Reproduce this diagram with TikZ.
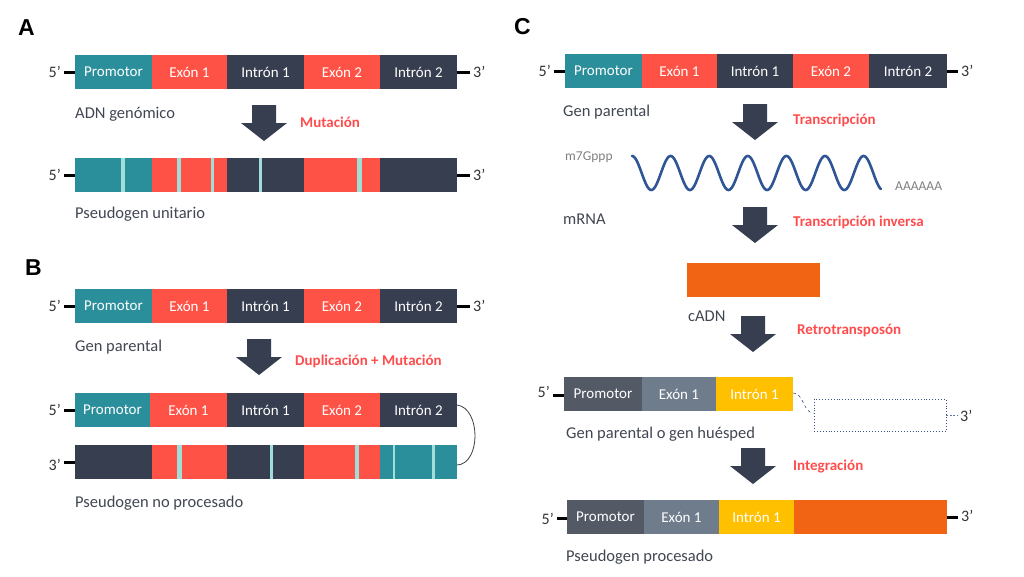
\documentclass[tikz,border=0pt]{standalone}
\usepackage{fontspec}
\setmainfont{Carlito}
\newfontfamily\labfont{Liberation Sans}
\definecolor{teal2}{RGB}{42,142,155}
\definecolor{red2}{RGB}{255,82,70}
\definecolor{navy2}{RGB}{54,62,79}
\definecolor{stripec}{RGB}{160,222,218}
\definecolor{txt}{RGB}{64,70,82}
\definecolor{redtxt}{RGB}{255,77,77}
\definecolor{hostdark}{RGB}{83,89,101}
\definecolor{hostslate}{RGB}{110,124,140}
\definecolor{hostyel}{RGB}{255,192,0}
\definecolor{cadn}{RGB}{240,100,20}
\definecolor{wavec}{RGB}{47,85,151}
\definecolor{graytxt}{RGB}{128,128,128}
\definecolor{dotc}{RGB}{60,80,130}
\tikzset{
  seg/.style={anchor=west, minimum height=34pt, inner sep=0pt, outer sep=0pt, text=white, font=\fontsize{15}{18}\selectfont},
  desc/.style={anchor=base west, inner sep=0pt, text=txt, font=\fontsize{16.5}{20}\selectfont},
  redlab/.style={anchor=base west, inner sep=0pt, text=redtxt, font=\bfseries\fontsize{15}{18}\selectfont},
  endtxt/.style={inner sep=0pt, text=black!80, font=\fontsize{16}{19}\selectfont},
  tick/.style={line width=3pt, black},
  panel/.style={anchor=base west, inner sep=0pt, font=\labfont\bfseries\fontsize{23}{26}\selectfont},
  smalltxt/.style={anchor=base west, inner sep=0pt, text=graytxt, font=\fontsize{13.5}{16}\selectfont},
  stripe/.style={fill=stripec},
  downarrow/.pic={\fill[navy2] (-12,0) -- (12,0) -- (12,18) -- (23,18) -- (0,36) -- (-23,18) -- (-12,18) -- cycle;}
}
\begin{document}
\begin{tikzpicture}[x=1pt,y=-1pt]
\useasboundingbox (0,0) rectangle (1024,576);
\fill[white] (0,0) rectangle (1024,576);

% ---------------- Panel A ----------------
\node[panel] (pA) at (18,35) {A};
\node[seg, fill=teal2, minimum width=77pt] (a1) at (75,72) {Promotor};
\node[seg, fill=red2, minimum width=75pt] (a2) at (a1.east) {Exón 1};
\node[seg, fill=navy2, minimum width=77pt] (a3) at (a2.east) {Intrón 1};
\node[seg, fill=red2, minimum width=76pt] (a4) at (a3.east) {Exón 2};
\node[seg, fill=navy2, minimum width=77pt] (a5) at (a4.east) {Intrón 2};
\coordinate (a5l) at (64,72); \coordinate (a3r) at (470,72);
\draw[tick] (a5l) -- (a1.west);
\draw[tick] (a5.east) -- (a3r);
\node[endtxt, anchor=east] (a5t) at (61,72) {5’};
\node[endtxt, anchor=west] (a3t) at (473,72) {3’};
\node[desc] (aD1) at (75,118) {ADN genómico};
\pic at (264,105) {downarrow};
\node[redlab] (aM) at (300,127) {Mutación};

\node[seg, fill=teal2, minimum width=77pt] (am1) at (75,175) {};
\node[seg, fill=red2, minimum width=75pt] (am2) at (am1.east) {};
\node[seg, fill=navy2, minimum width=77pt] (am3) at (am2.east) {};
\node[seg, fill=red2, minimum width=76pt] (am4) at (am3.east) {};
\node[seg, fill=navy2, minimum width=77pt] (am5) at (am4.east) {};
\fill[stripe] (121,158) rectangle (124.5,192);
\fill[stripe] (177,158) rectangle (181,192);
\fill[stripe] (211,158) rectangle (214,192);
\fill[stripe] (258.5,158) rectangle (262,192);
\fill[stripe] (357,158) rectangle (362,192);
\coordinate (am5l) at (64,175); \coordinate (am3r) at (470,175);
\draw[tick] (am5l) -- (am1.west);
\draw[tick] (am5.east) -- (am3r);
\node[endtxt, anchor=east] (am5t) at (61,175) {5’};
\node[endtxt, anchor=west] (am3t) at (473,175) {3’};
\node[desc] (aD2) at (75,218) {Pseudogen unitario};

% ---------------- Panel B ----------------
\node[panel] (pB) at (25,275) {B};
\node[seg, fill=teal2, minimum width=77pt] (b1) at (75,306) {Promotor};
\node[seg, fill=red2, minimum width=75pt] (b2) at (b1.east) {Exón 1};
\node[seg, fill=navy2, minimum width=77pt] (b3) at (b2.east) {Intrón 1};
\node[seg, fill=red2, minimum width=76pt] (b4) at (b3.east) {Exón 2};
\node[seg, fill=navy2, minimum width=77pt] (b5) at (b4.east) {Intrón 2};
\coordinate (b5l) at (64,306); \coordinate (b3r) at (470,306);
\draw[tick] (b5l) -- (b1.west);
\draw[tick] (b5.east) -- (b3r);
\node[endtxt, anchor=east] (b5t) at (61,306) {5’};
\node[endtxt, anchor=west] (b3t) at (473,306) {3’};
\node[desc] (bD1) at (75,351) {Gen parental};
\pic at (259,339) {downarrow};
\node[redlab] (bM) at (295,365) {Duplicación + Mutación};

\node[seg, fill=teal2, minimum width=75pt] (c1) at (75,410) {Promotor};
\node[seg, fill=red2, minimum width=77pt] (c2) at (c1.east) {Exón 1};
\node[seg, fill=navy2, minimum width=77pt] (c3) at (c2.east) {Intrón 1};
\node[seg, fill=red2, minimum width=76pt] (c4) at (c3.east) {Exón 2};
\node[seg, fill=navy2, minimum width=77pt] (c5) at (c4.east) {Intrón 2};
\coordinate (c5l) at (64,410);
\draw[tick] (c5l) -- (c1.west);
\node[endtxt, anchor=east] (c5t) at (61,410) {5’};

\node[seg, fill=navy2, minimum width=77pt] (d1) at (75,462) {};
\node[seg, fill=red2, minimum width=75pt] (d2) at (d1.east) {};
\node[seg, fill=navy2, minimum width=77pt] (d3) at (d2.east) {};
\node[seg, fill=red2, minimum width=76pt] (d4) at (d3.east) {};
\node[seg, fill=teal2, minimum width=77pt] (d5) at (d4.east) {};
\fill[stripe] (177,445) rectangle (182,479);
\fill[stripe] (270,445) rectangle (273,479);
\fill[stripe] (355,445) rectangle (359,479);
\fill[stripe] (392.5,445) rectangle (395,479);
\fill[stripe] (432,445) rectangle (435,479);
\coordinate (d3l) at (64,462);
\draw[tick] (d3l) -- (d1.west);
\node[endtxt, anchor=east] (d3t) at (61,465) {3’};
\draw[black!75, line width=0.8pt] ([yshift=5pt]c5.east) .. controls (481,408) and (481,464) .. ([yshift=-3pt]d5.east);
\node[desc] (bD2) at (75,507) {Pseudogen no procesado};

% ---------------- Panel C ----------------
\node[panel] (pC) at (514,34) {C};
\node[seg, fill=teal2, minimum width=77pt] (e1) at (565,71) {Promotor};
\node[seg, fill=red2, minimum width=75pt] (e2) at (e1.east) {Exón 1};
\node[seg, fill=navy2, minimum width=76pt] (e3) at (e2.east) {Intrón 1};
\node[seg, fill=red2, minimum width=76pt] (e4) at (e3.east) {Exón 2};
\node[seg, fill=navy2, minimum width=78pt] (e5) at (e4.east) {Intrón 2};
\coordinate (e5l) at (554,71); \coordinate (e3r) at (958,71);
\draw[tick] (e5l) -- (e1.west);
\draw[tick] (e5.east) -- (e3r);
\node[endtxt, anchor=east] (e5t) at (551,71) {5’};
\node[endtxt, anchor=west] (e3t) at (961,71) {3’};
\node[desc] (eD1) at (563,116) {Gen parental};
\pic at (755,104) {downarrow};
\node[redlab] (eT1) at (793,124) {Transcripción};

\node[smalltxt] (m7) at (565,160) {m7Gppp};
\draw[wavec, line width=2.6pt, line cap=round] plot[domain=0:6.45, samples=300, smooth] ({632+\x*38.6},{173-17*cos(360*\x)});
\node[smalltxt] (polyA) at (895,190) {AAAAAA};
\node[desc] (eD2) at (563,224) {mRNA};
\pic at (755,207) {downarrow};
\node[redlab] (eT2) at (793,226) {Transcripción inversa};

\node[fill=cadn, minimum width=133pt, minimum height=34pt, inner sep=0pt] (cd) at (753.5,280) {};
\node[desc] (eD3) at (688,321) {cADN};
\pic at (753,316) {downarrow};
\node[redlab] (eT3) at (797,334) {Retrotransposón};

\node[seg, fill=hostdark, minimum width=78pt] (h1) at (564,394) {Promotor};
\node[seg, fill=hostslate, minimum width=74pt] (h2) at (h1.east) {Exón 1};
\node[seg, fill=hostyel, minimum width=77pt] (h3) at (h2.east) {Intrón 1};
\coordinate (h5l) at (553,395);
\draw[tick] (h5l) -- ([yshift=-1pt]h1.west);
\node[endtxt, anchor=east] (h5t) at (550,392) {5’};
\node[draw=dotc, dotted, line width=0.9pt, minimum width=132pt, minimum height=32pt, inner sep=0pt] (gap) at (880,415) {};
\draw[dotc, dashed, line width=0.6pt] ([yshift=1pt]h3.east) .. controls (804,393) and (803,413) .. ([yshift=2pt]gap.west);
\coordinate (gapr) at (957,415);
\draw[dotc!80, dashed, line width=0.6pt, dash pattern=on 2pt off 1.5pt] (gap.east) -- (gapr);
\node[endtxt, anchor=west] (h3t) at (960,416) {3’};
\node[desc] (eD4) at (566,438) {Gen parental o gen huésped};
\pic at (753,448) {downarrow};
\node[redlab] (eT4) at (793,470) {Integración};

\node[seg, fill=hostdark, minimum width=77pt] (f1) at (567,517) {Promotor};
\node[seg, fill=hostslate, minimum width=75pt] (f2) at (f1.east) {Exón 1};
\node[seg, fill=hostyel, minimum width=75pt] (f3) at (f2.east) {Intrón 1};
\node[seg, fill=cadn, minimum width=153pt] (f4) at (f3.east) {};
\coordinate (f5l) at (557,518); \coordinate (f3r) at (958,517);
\draw[tick] (f5l) -- ([yshift=-1pt]f1.west);
\draw[tick] (f4.east) -- (f3r);
\node[endtxt, anchor=east] (f5t) at (554,519) {5’};
\node[endtxt, anchor=west] (f3t) at (961,516) {3’};
\node[desc] (eD5) at (566,561) {Pseudogen procesado};
\end{tikzpicture}
\end{document}
